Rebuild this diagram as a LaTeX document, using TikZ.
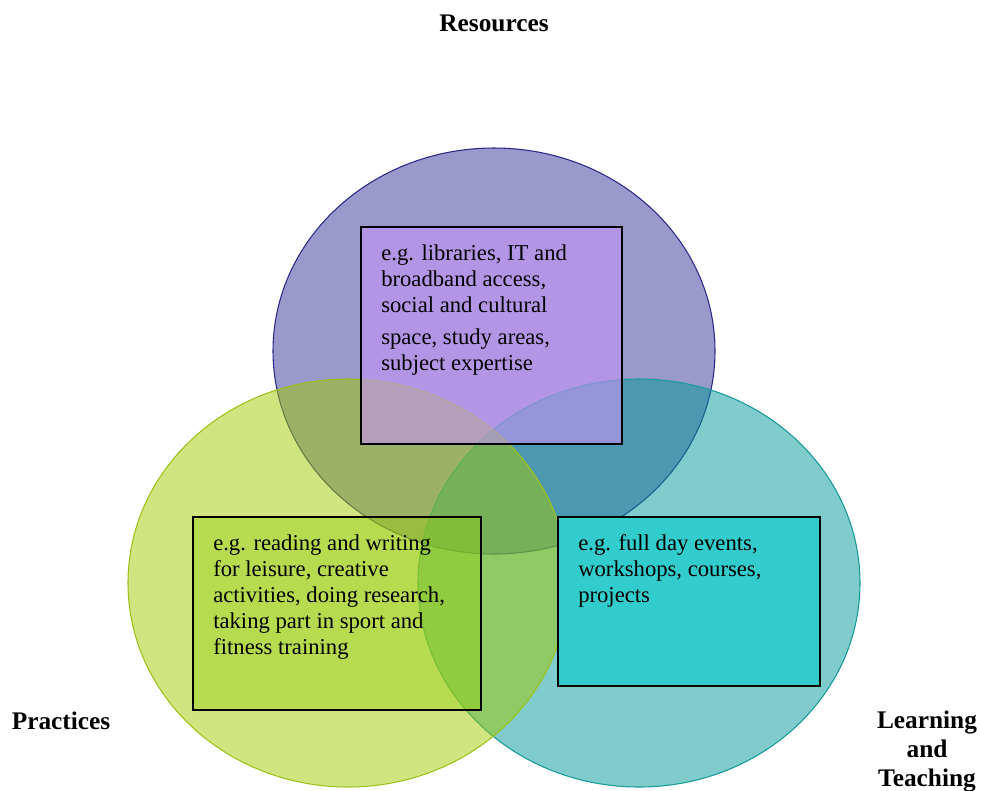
\documentclass[tikz,border=0pt]{standalone}
\usepackage{fontspec}
\setmainfont{Liberation Serif}
\definecolor{resC}{HTML}{343499}
\definecolor{resB}{HTML}{2A2A88}
\definecolor{praC}{HTML}{A1C901}
\definecolor{praB}{HTML}{9CC21A}
\definecolor{leaC}{HTML}{019797}
\definecolor{leaB}{HTML}{179A9A}
\definecolor{resBox}{HTML}{C593F7}
\definecolor{praBox}{HTML}{94D008}
\definecolor{leaBox}{HTML}{33CCCC}
\tikzset{
  venn/.style={fill opacity=0.5, line width=0.8pt},
  exbox/.style={draw=black, line width=1.5pt},
  extext/.style={anchor=north west, inner sep=0pt, align=left, text=black,
    font=\fontsize{17}{19.5}\selectfont},
  title/.style={inner sep=0pt, align=center, font=\fontsize{19}{21.75}\selectfont\bfseries}
}
\begin{document}
\begin{tikzpicture}[x=0.75pt, y=-0.75pt]
\useasboundingbox (0,0) rectangle (981,790);
% circles
\path[venn, fill=resC, draw=resB] (494,351) ellipse [x radius=221, y radius=203];
\path[venn, fill=leaC, draw=leaB] (639,583) ellipse [x radius=221, y radius=204];
\path[venn, fill=praC, draw=praB] (348,583) ellipse [x radius=220, y radius=204];
% boxes
\draw[exbox, fill=resBox, fill opacity=0.6] (361,227) rectangle (622,444);
\draw[exbox, fill=praBox, fill opacity=0.4] (193,517) rectangle (481,710);
\draw[exbox, fill=leaBox] (558,517) rectangle (820,686);
% texts
\node[extext] (restext) at (381,244) {e.g. libraries, IT and\\ broadband access,\\ social and cultural\\[4.5pt] space, study areas,\\ subject expertise};
\node[extext] (pratext) at (213,534) {e.g. reading and writing\\ for leisure, creative\\ activities, doing research,\\ taking part in sport and\\ fitness training};
\node[extext] (leatext) at (578,534) {e.g. full day events,\\ workshops, courses,\\ projects};
% titles
\node[title] (res) at (494,23) {Resources};
\node[title] (pra) at (61,721) {Practices};
\node[title, anchor=north] (lea) at (927,711) {Learning\\ and\\ Teaching};
\end{tikzpicture}
\end{document}
